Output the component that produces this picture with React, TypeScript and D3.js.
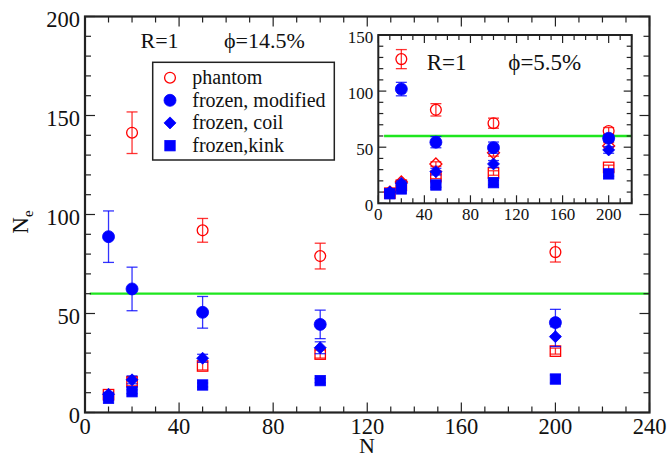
import React from 'react';
import * as d3 from 'd3';

// ---------- main panel: R=1, phi = 14.5% ----------
const mainPhantomN = [20, 50, 100, 200];
const mainPhantomV = [141.3, 92, 79, 81];
const mainPhantomE = [10.5, 6, 6.5, 5];

const mainPhantomKinkN = [10, 20, 50, 100, 200];
const mainPhantomKinkV = [9, 15.5, 23.5, 29.5, 31];
const mainPhantomKinkE = [1, 2, 2, 2, 1.5];

const mainModifiedN = [10, 20, 50, 100, 200];
const mainModifiedV = [88.8, 62.4, 50.6, 44.5, 45.4];
const mainModifiedE = [13, 11, 8, 7.2, 6.7];

const mainCoilN = [10, 20, 50, 100, 200];
const mainCoilV = [9.2, 16.5, 27.4, 32.7, 38.3];
const mainCoilE = [1, 2, 2, 3, 5];

const mainKinkN = [10, 20, 50, 100, 200];
const mainKinkV = [7.2, 10.5, 13.9, 16.1, 16.9];
const mainKinkE = [1, 1, 1, 1, 2];

const mainReference = 60;

// ---------- inset: R=1, phi = 5.5% ----------
const insetPhantomN = [20, 50, 100, 200];
const insetPhantomV = [128.5, 83.3, 71.4, 64.5];
const insetPhantomE = [8.5, 5.5, 4.5, 3];

const insetPhantomCoilN = [10, 20, 50, 100, 200];
const insetPhantomCoilV = [10, 19, 35, 45, 51];
const insetPhantomCoilE = [1, 1.5, 2, 3, 3];

const insetPhantomKinkN = [10, 20, 50, 100, 200];
const insetPhantomKinkV = [9, 16, 24, 27, 32];
const insetPhantomKinkE = [1, 1.5, 2, 2, 2];

const insetModifiedN = [20, 50, 100, 200];
const insetModifiedV = [101.8, 54.5, 49.6, 58];
const insetModifiedE = [6, 5, 5, 3];

const insetCoilN = [10, 20, 50, 100, 200];
const insetCoilV = [10, 17.9, 28.2, 35.1, 47.6];
const insetCoilE = [1, 2, 3, 3, 3];

const insetKinkN = [10, 20, 50, 100, 200];
const insetKinkV = [8.5, 12.8, 16.3, 18.4, 26.2];
const insetKinkE = [1, 1, 2, 2, 2];

const insetReference = 60;

// ---------- axes and labels ----------
const mainXTicks = [0, 40, 80, 120, 160, 200, 240];
const mainYTicks = [0, 50, 100, 150, 200];
const insetXTicks = [0, 40, 80, 120, 160, 200];
const insetYTicks = [0, 50, 100, 150];

const legendLabels = ['phantom', 'frozen, modified', 'frozen, coil', 'frozen,kink'];
const legendShapes: Shape[] = ['circle', 'circle', 'diamond', 'square'];
const legendFilled = [false, true, true, true];
const legendColors = ['#ff0000', '#0000ff', '#0000ff', '#0000ff'];

type Shape = 'circle' | 'diamond' | 'square';

const RED = '#ff0000';
const BLUE = '#0000ff';
const GREEN = '#1ee61e';
const INK = '#222';
const FONT = '"Liberation Serif", "Times New Roman", serif';

function Marker({ x, y, shape, filled, color, size = 6 }: { x: number; y: number; shape: Shape; filled: boolean; color: string; size?: number }) {
  const fill = filled ? color : 'none';
  const sw = filled ? 0.8 : 1.3;
  if (shape === 'circle') {
    const r = filled ? size : size - 0.6;
    return <circle cx={x} cy={y} r={r} fill={fill} stroke={color} strokeWidth={sw} />;
  }
  if (shape === 'square') {
    const h = size - 0.8;
    return <rect x={x - h} y={y - h} width={2 * h} height={2 * h} fill={fill} stroke={color} strokeWidth={sw} />;
  }
  const d = size;
  return <path d={`M${x},${y - d}L${x + d},${y}L${x},${y + d}L${x - d},${y}Z`} fill={fill} stroke={color} strokeWidth={sw} />;
}

function Series({ ns, vs, es, x, y, shape, filled, color, cap = 5.5 }: {
  ns: number[]; vs: number[]; es: number[]; x: d3.ScaleLinear<number, number>; y: d3.ScaleLinear<number, number>;
  shape: Shape; filled: boolean; color: string; cap?: number;
}) {
  return (
    <g>
      {ns.map((n, i) => {
        const cx = x(n);
        const top = y(vs[i] + es[i]);
        const bot = y(vs[i] - es[i]);
        return (
          <g key={i}>
            <g stroke={color} strokeWidth={1.3} strokeOpacity={0.8}>
              <line x1={cx} x2={cx} y1={top} y2={bot} />
              <line x1={cx - cap} x2={cx + cap} y1={top} y2={top} />
              <line x1={cx - cap} x2={cx + cap} y1={bot} y2={bot} />
            </g>
            <Marker x={cx} y={y(vs[i])} shape={shape} filled={filled} color={color} />
          </g>
        );
      })}
    </g>
  );
}

function Frame({ x, y, xTicks, yTicks, xMinorStep, yMinorStep, major, minor, fontSize, labelGap, xLabelBase, sw }: {
  x: d3.ScaleLinear<number, number>; y: d3.ScaleLinear<number, number>; xTicks: number[]; yTicks: number[];
  xMinorStep: number; yMinorStep: number; major: number; minor: number; fontSize: number; labelGap: number; xLabelBase: number; sw: number;
}) {
  const [x0, x1] = x.range();
  const [y0, y1] = y.range();
  const [dx0, dx1] = x.domain();
  const [dy0, dy1] = y.domain();
  const xMinor = d3.range(dx0, dx1 + 0.001, xMinorStep).filter((v) => !xTicks.includes(v));
  const yMinor = d3.range(dy0, dy1 + 0.001, yMinorStep).filter((v) => !yTicks.includes(v));
  return (
    <g>
      <g stroke={INK} strokeWidth={1.2}>
        {xTicks.map((t) => (
          <g key={'xm' + t}>
            <line x1={x(t)} x2={x(t)} y1={y0} y2={y0 - major} />
            <line x1={x(t)} x2={x(t)} y1={y1} y2={y1 + major} />
          </g>
        ))}
        {xMinor.map((t) => (
          <g key={'xn' + t}>
            <line x1={x(t)} x2={x(t)} y1={y0} y2={y0 - minor} />
            <line x1={x(t)} x2={x(t)} y1={y1} y2={y1 + minor} />
          </g>
        ))}
        {yTicks.map((t) => (
          <g key={'ym' + t}>
            <line x1={x0} x2={x0 + major} y1={y(t)} y2={y(t)} />
            <line x1={x1} x2={x1 - major} y1={y(t)} y2={y(t)} />
          </g>
        ))}
        {yMinor.map((t) => (
          <g key={'yn' + t}>
            <line x1={x0} x2={x0 + minor} y1={y(t)} y2={y(t)} />
            <line x1={x1} x2={x1 - minor} y1={y(t)} y2={y(t)} />
          </g>
        ))}
      </g>
      <rect x={x0} y={y1} width={x1 - x0} height={y0 - y1} fill="none" stroke={INK} strokeWidth={sw} />
      <g fontFamily={FONT} fontSize={fontSize} fill="#111">
        {xTicks.map((t) => (
          <text key={'xl' + t} x={x(t)} y={xLabelBase} textAnchor="middle">{t}</text>
        ))}
        {yTicks.map((t) => (
          <text key={'yl' + t} x={x0 - labelGap} y={y(t) + fontSize * 0.36 + 2} textAnchor="end">{t}</text>
        ))}
      </g>
    </g>
  );
}

export default function App() {
  const W = 669;
  const H = 455;

  const x = d3.scaleLinear().domain([0, 240]).range([85, 649.5]);
  const y = d3.scaleLinear().domain([0, 200]).range([412.5, 16.5]);

  const ix = d3.scaleLinear().domain([0, 220]).range([378.3, 631.7]);
  const iy = d3.scaleLinear().domain([0, 150]).range([203.3, 35]);

  const legendX = 170;
  const legendRows = [77.7, 100.3, 122.9, 145.7];

  return (
    <svg width={W} height={H} viewBox={`0 0 ${W} ${H}`} style={{ position: 'absolute', left: 0, top: 0, background: '#fff' }}>
      <rect width={W} height={H} fill="#fff" />

      {/* main panel */}
      <line x1={x(2)} x2={x(240)} y1={y(mainReference)} y2={y(mainReference)} stroke={GREEN} strokeWidth={2.3} />
      <Frame x={x} y={y} xTicks={mainXTicks} yTicks={mainYTicks} xMinorStep={10} yMinorStep={10}
        major={10} minor={6} fontSize={22.5} labelGap={5} xLabelBase={434} sw={2.2} />

      <Series ns={mainPhantomKinkN} vs={mainPhantomKinkV} es={mainPhantomKinkE} x={x} y={y} shape="square" filled={false} color={RED} />
      <Series ns={mainPhantomN} vs={mainPhantomV} es={mainPhantomE} x={x} y={y} shape="circle" filled={false} color={RED} />
      <Series ns={mainModifiedN} vs={mainModifiedV} es={mainModifiedE} x={x} y={y} shape="circle" filled color={BLUE} />
      <Series ns={mainCoilN} vs={mainCoilV} es={mainCoilE} x={x} y={y} shape="diamond" filled color={BLUE} />
      <Series ns={mainKinkN} vs={mainKinkV} es={mainKinkE} x={x} y={y} shape="square" filled color={BLUE} />

      <g fontFamily={FONT} fontSize={22} fill="#111">
        <text x={140.5} y={48.3}>R=1</text>
        <text x={224} y={48.3}>ϕ=14.5%</text>
      </g>

      {/* legend */}
      <rect x={152.7} y={62.3} width={181.6} height={97.7} fill="#fff" stroke={INK} strokeWidth={1.5} />
      {legendLabels.map((lab, i) => (
        <g key={lab}>
          <Marker x={legendX} y={legendRows[i]} shape={legendShapes[i]} filled={legendFilled[i]} color={legendColors[i]} />
          <text x={192.3} y={legendRows[i] + 6.5} fontFamily={FONT} fontSize={20} fill="#111">{lab}</text>
        </g>
      ))}

      {/* axis titles */}
      <text x={367} y={452.5} textAnchor="middle" fontFamily={FONT} fontSize={22} fill="#111">N</text>
      <g transform="translate(28,222) rotate(-90)">
        <text x={0} y={0} textAnchor="middle" fontFamily={FONT} fontSize={23} fill="#111">
          N<tspan fontSize={15} dy={5}>e</tspan>
        </text>
      </g>

      {/* inset panel */}
      <rect x={ix(0)} y={iy(150)} width={ix(220) - ix(0)} height={iy(0) - iy(150)} fill="#fff" />
      <line x1={ix(5)} x2={ix(220)} y1={iy(insetReference)} y2={iy(insetReference)} stroke={GREEN} strokeWidth={2.3} />
      <Frame x={ix} y={iy} xTicks={insetXTicks} yTicks={insetYTicks} xMinorStep={10} yMinorStep={10}
        major={8} minor={5} fontSize={17} labelGap={5} xLabelBase={219.5} sw={2} />

      <Series ns={insetPhantomKinkN} vs={insetPhantomKinkV} es={insetPhantomKinkE} x={ix} y={iy} shape="square" filled={false} color={RED} />
      <Series ns={insetPhantomCoilN} vs={insetPhantomCoilV} es={insetPhantomCoilE} x={ix} y={iy} shape="diamond" filled={false} color={RED} />
      <Series ns={insetPhantomN} vs={insetPhantomV} es={insetPhantomE} x={ix} y={iy} shape="circle" filled={false} color={RED} />
      <Series ns={insetModifiedN} vs={insetModifiedV} es={insetModifiedE} x={ix} y={iy} shape="circle" filled color={BLUE} />
      <Series ns={insetCoilN} vs={insetCoilV} es={insetCoilE} x={ix} y={iy} shape="diamond" filled color={BLUE} />
      <Series ns={insetKinkN} vs={insetKinkV} es={insetKinkE} x={ix} y={iy} shape="square" filled color={BLUE} />

      <g fontFamily={FONT} fontSize={23} fill="#111">
        <text x={426.7} y={70}>R=1</text>
        <text x={508.3} y={70}>ϕ=5.5%</text>
      </g>
    </svg>
  );
}
